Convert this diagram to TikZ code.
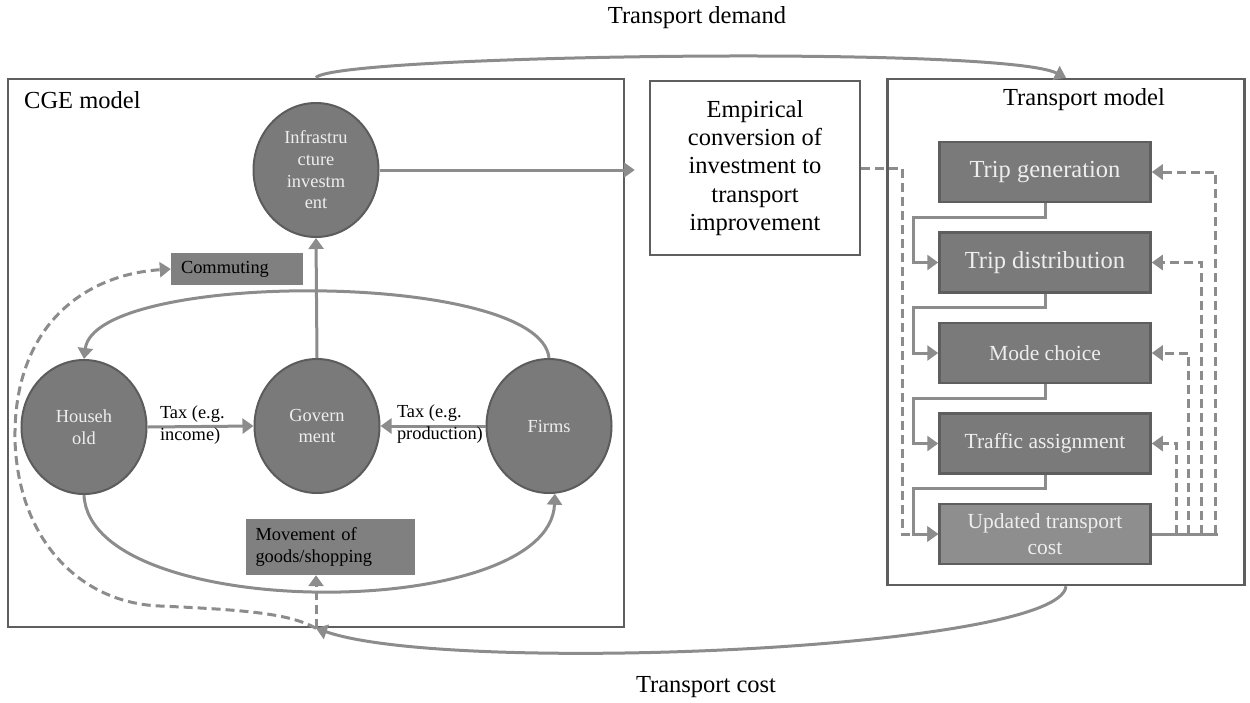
\documentclass[tikz,border=0pt]{standalone}
\usepackage{fontspec}
\setmainfont{Liberation Serif}
\usetikzlibrary{arrows.meta,shapes.geometric,positioning}
\definecolor{linegray}{HTML}{8C8C8C}
\definecolor{framegray}{HTML}{5E5E5E}
\definecolor{agentfill}{HTML}{7A7A7A}
\definecolor{agentedge}{HTML}{5C5C5C}
\definecolor{tboxfill}{HTML}{7A7A7A}
\definecolor{costfill}{HTML}{8E8E8E}
\definecolor{tagfill}{HTML}{808080}
\definecolor{lighttext}{HTML}{EEEEEE}
\newcommand{\lblbig}{\fontsize{24.5}{28.3}\selectfont}
\newcommand{\lblmid}{\fontsize{21.5}{26}\selectfont}
\newcommand{\lblsmall}{\fontsize{18.4}{21.7}\selectfont}
\tikzset{
    frame/.style={
           rectangle,
           draw=framegray, line width=2.5pt,
           inner sep=0pt,
           },
    agent/.style={
           ellipse,
           draw=agentedge, line width=2pt,
           fill=agentfill, text=lighttext,
           minimum width=125pt, minimum height=134pt,
           inner sep=0pt,
           align=center, font=\lblsmall,
           },
    tbox/.style={
           rectangle,
           draw=framegray, line width=2.5pt,
           fill=tboxfill, text=lighttext,
           minimum width=211pt, minimum height=60pt,
           inner sep=0pt,
           align=center, font=\lblbig,
           },
    tag/.style={
           rectangle,
           fill=tagfill, text=black,
           inner xsep=10pt, inner ysep=0pt,
           align=left, font=\lblsmall,
           },
    taxlbl/.style={inner sep=0pt, align=left, font=\lblsmall},
    flow/.style={draw=linegray, line width=3pt, -{Triangle[length=11pt,width=15pt]}},
    fback/.style={flow, dash pattern=on 9pt off 5pt},
}

\begin{document}
\begin{tikzpicture}[x=1pt,y=-1pt]

 \useasboundingbox (0,0) rectangle (1250,702);

 % outer frames
 \node[frame, minimum width=616pt, minimum height=548pt] (cge) at (316,353) {};
 \node[frame, minimum width=210pt, minimum height=174pt, align=center, font=\lblbig] (emp) at (755,168)
  {Empirical\\conversion of\\investment to\\transport\\improvement};
 \node[frame, minimum width=357pt, minimum height=506pt] (tm) at (1066,332) {};

 \node[anchor=west, font=\lblbig, inner sep=0pt] (cgetitle) at (24,100) {CGE model};
 \node[font=\lblbig, inner sep=0pt] (tmtitle) at (1084,100) {Transport model};
 \node[font=\lblbig, inner sep=0pt] (demand) at (697,18) {Transport demand};
 \node[font=\lblbig, inner sep=0pt] (cost) at (706,687) {Transport cost};

 % CGE agents
 \node[agent] (infra) at (316,170) {Infrastru\\cture\\investm\\ent};
 \node[agent] (hh) at (84,427) {Househ\\old};
 \node[agent] (gov) at (317,426) {Govern\\ment};
 \node[agent] (firms) at (549,426) {Firms};

 \node[tag, text width=112pt, minimum height=32pt] (comm) at (237,269) {Commuting};
 \node[tag, text width=149pt, minimum height=56pt] (move) at (330,547) {Movement of\\goods/shopping};

 % transport model steps
 \node[tbox] (tg) at (1045,172) {Trip generation};
 \node[tbox, below=28pt of tg] (td) {Trip distribution};
 \node[tbox, below=28pt of td, font=\lblmid] (mc) {Mode choice};
 \node[tbox, below=28pt of mc, font=\lblmid] (ta) {Traffic assignment};
 \node[tbox, below=28pt of ta, font=\lblmid, fill=costfill] (ut) {Updated transport\\cost};

 % CGE flows
 \draw[flow] (gov.north) -- (infra.south);
 \draw[flow] (hh.east) -- node[taxlbl, pos=0, anchor=west, xshift=11pt, yshift=2pt] {Tax (e.g.\\income)} (gov.west);
 \draw[flow] (firms.west) -- node[taxlbl, pos=1, anchor=west, xshift=15pt, yshift=2pt] {Tax (e.g.\\production)} (gov.east);
 \draw[flow] (firms.north) .. controls (540,270) and (95,270) .. (hh.north);
 \draw[flow] (hh.south) .. controls (90,623) and (550,623) .. (firms.-85);
 \draw[flow, shorten >=14pt] (infra.east) -- (infra.east -| emp.west);

 % links between the models
 \draw[flow] (cge.north) .. controls (330,55) and (1000,45) .. (tm.north);
 \draw[flow] (tm.south) .. controls (1060,650) and (450,675) .. (cge.south);
 \draw[fback] (cge.south) -- (cge.south |- move.south);
 \draw[fback] (cge.south) .. controls (290,614) and (250,610) .. (160,606)
   .. controls (80,603) and (18,540) .. (15,440)
   .. controls (13,330) and (80,275) .. (comm.west);
 \draw[fback] (emp.east) -- ++(41,0) |- (ut.west);

 % steps and feedback
 \foreach \a/\b in {tg/td, td/mc, mc/ta, ta/ut}
   \draw[flow] (\a.south) -- ++(0,14) -| ([xshift=-25pt]\b.west) -- (\b.west);
 \draw[draw=linegray, line width=3pt] (ut.east) -- ([xshift=66pt]ut.east);
 \foreach \t/\dx in {ta/25, mc/37, td/50, tg/64}
   \draw[fback] ([xshift=\dx pt]ut.east) |- (\t.east);

\end{tikzpicture}
\end{document}
